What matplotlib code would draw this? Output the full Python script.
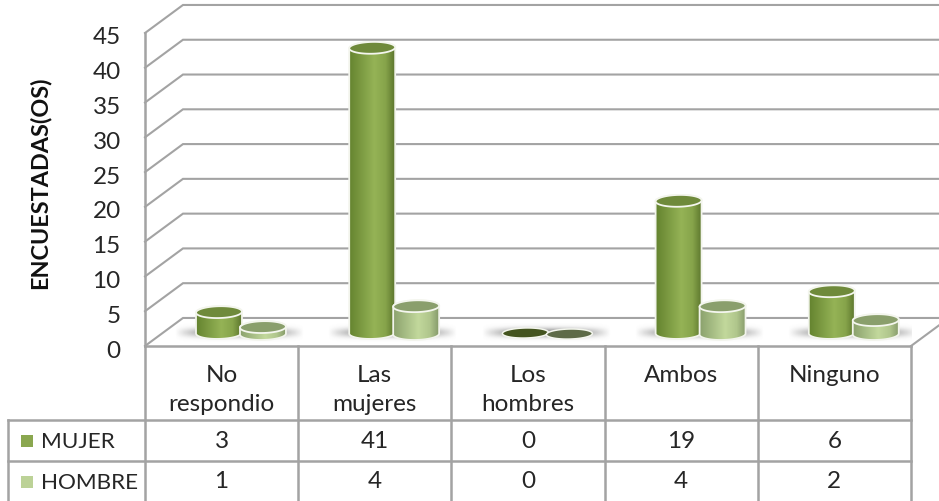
"""Encuesta: barras cilindricas con tabla de datos."""
import matplotlib
matplotlib.use('Agg')
import matplotlib.pyplot as plt
import numpy as np
from matplotlib.colors import LinearSegmentedColormap
from matplotlib.patches import Polygon, Rectangle
from matplotlib.transforms import ScaledTranslation

categories = ['No\nrespondio', 'Las\nmujeres', 'Los\nhombres', 'Ambos', 'Ninguno']
mujer = [3, 41, 0, 19, 6]
hombre = [1, 4, 0, 4, 2]
y_ticks = [0, 5, 10, 15, 20, 25, 30, 35, 40, 45]

W, H = 939, 502
LEFT, RIGHT, TOP, BOTTOM = 145, 911, 34, 347
GRID = '#a3a3a3'
TEXT = '#262626'
DEPTH_X, DEPTH_Y = 0.248, 4.03  # fondo de la caja 3D, en unidades de datos

plt.rcParams['font.family'] = ['Lato', 'DejaVu Sans']

fig = plt.figure(figsize=(W / 100, H / 100), dpi=100)
fig.patch.set_facecolor('white')
ax = fig.add_axes([LEFT / W, 1 - BOTTOM / H, (RIGHT - LEFT) / W, (BOTTOM - TOP) / H])
ax.set_facecolor('none')

body_mujer = LinearSegmentedColormap.from_list('m', [(0, '#64832f'), (0.55, '#95b356'), (0.8, '#86a44a'), (1, '#5c762d')])
body_hombre = LinearSegmentedColormap.from_list('h', [(0, '#8ba26d'), (0.55, '#c2d89c'), (0.8, '#b0c68c'), (1, '#869b6a')])


def ellipse(xc, yc, rx, ry, tilt, n=80, start=0.0, end=2 * np.pi):
    t = np.linspace(start, end, n)
    dx = rx * np.cos(t)
    return np.column_stack([xc + dx, yc + ry * np.sin(t) + tilt * dx])


def cylinder(xc, value, base, cmap, top_color, zero_color, z):
    rx, ry, tilt = 0.15, 0.85, 0.50
    yt = base + value
    if value == 0:
        top = Polygon(ellipse(xc, base, rx, ry * 0.85, tilt), closed=True, fc=zero_color,
                      ec='#f4f6ee', lw=1.1, zorder=z + 1, clip_on=False)
        ax.add_patch(top)
        return
    # contorno: frente inferior + lados
    low = ellipse(xc, base, rx, ry, tilt, start=np.pi, end=2 * np.pi)
    up = ellipse(xc, yt, rx, ry, tilt, start=0, end=np.pi)
    outline = np.vstack([low, up])
    body = Polygon(outline, closed=True, fc='none', ec='#f2f4ec', lw=1.3, zorder=z + 0.5, clip_on=False)
    ax.add_patch(body)
    grad = np.linspace(0, 1, 200).reshape(1, -1)
    im = ax.imshow(grad, cmap=cmap, extent=[xc - rx, xc + rx, base - 2, yt + 2], aspect='auto', zorder=z)
    im.set_clip_path(Polygon(outline, closed=True, transform=ax.transData))
    top = Polygon(ellipse(xc, yt, rx, ry, tilt), closed=True, fc=top_color, ec='#f4f6ee',
                  lw=1.3, zorder=z + 1, clip_on=False)
    ax.add_patch(top)


def shadow(xc):
    hw, hh = 0.42, 1.3
    xx, yy = np.meshgrid(np.linspace(-1, 1, 160), np.linspace(-1, 1, 40))
    alpha = np.clip(1 - np.abs(xx) ** 2.2, 0, 1) * np.exp(-(yy * 2.1) ** 2) * 0.8
    rgba = np.zeros(xx.shape + (4,))
    rgba[..., :3] = 0.45
    rgba[..., 3] = alpha
    ax.imshow(rgba, extent=[xc - hw, xc + hw, 1.87 - hh, 1.87 + hh], aspect='auto',
              zorder=1.5, interpolation='bilinear')


# paredes: rejilla de fondo y diagonales
for v in y_ticks:
    ax.plot([-0.5, -0.5 + DEPTH_X, 5.0], [v, v + DEPTH_Y, v + DEPTH_Y], color=GRID, lw=1.5,
            clip_on=False, zorder=1, solid_joinstyle='miter')
ax.plot([4.5, 4.5 + DEPTH_X], [0, DEPTH_Y], color=GRID, lw=1.5, clip_on=False, zorder=1)

for i in range(len(categories)):
    shadow(i + 0.117)
    cylinder(i - 0.017, mujer[i], 1.87, body_mujer, '#6f8a3b', '#44541f', 3)
    cylinder(i + 0.27, hombre[i], 1.72, body_hombre, '#8a9f6c', '#5e6b47', 5)

ax.set_xlim(-0.5, 4.5)
ax.set_ylim(0, 45)
ax.set_xticks([])
ax.set_yticks(y_ticks)
ax.tick_params(axis='y', length=0, pad=17.5, labelsize=17.5, labelcolor=TEXT)
shift = ScaledTranslation(0, -2 / 100, fig.dpi_scale_trans)
for lab in ax.get_yticklabels():
    lab.set_transform(lab.get_transform() + shift)
for s in ['top', 'right']:
    ax.spines[s].set_visible(False)
for s in ['left', 'bottom']:
    ax.spines[s].set_color(GRID)
    ax.spines[s].set_linewidth(1.8)
    ax.spines[s].set_zorder(6)

fig.text(40 / W, 1 - 183 / H, 'ENCUESTADAS(OS)', rotation=90, ha='center', va='center',
         fontsize=16.8, fontweight='bold', color='#111111')

# tabla de datos, en pixeles
tab = fig.add_axes([0, 0, 1, 1])
tab.set_xlim(0, W)
tab.set_ylim(H, 0)
tab.axis('off')
tab.patch.set_alpha(0)

col_w = (RIGHT - LEFT) / len(categories)
col_x = [LEFT + col_w * i for i in range(len(categories) + 1)]
ROW1, ROW2 = 421, 462
for x in col_x:
    tab.plot([x, x], [BOTTOM, H + 2], color=GRID, lw=1.8)
tab.plot([8, RIGHT], [ROW1, ROW1], color=GRID, lw=1.8)
tab.plot([8, RIGHT], [ROW2, ROW2], color=GRID, lw=1.8)
tab.plot([8, 8], [ROW1, H + 2], color=GRID, lw=1.8)

for i, cat in enumerate(categories):
    xc = (col_x[i] + col_x[i + 1]) / 2
    tab.text(xc, 365, cat, ha='center', va='top', fontsize=17.5, color=TEXT, linespacing=1.5)
    tab.text(xc, 442, str(mujer[i]), ha='center', va='center', fontsize=17.5, color=TEXT)
    tab.text(xc, 482, str(hombre[i]), ha='center', va='center', fontsize=17.5, color=TEXT)

tab.add_patch(Rectangle((20.5, 435.5), 12, 12, fc='#8aa74f', ec='none'))
tab.add_patch(Rectangle((20.5, 477), 12, 12, fc='#bcd297', ec='none'))
tab.text(41, 442, 'MUJER', ha='left', va='center', fontsize=16.2, color=TEXT)
tab.text(41, 483, 'HOMBRE', ha='left', va='center', fontsize=16.2, color=TEXT)

fig.savefig('out.png', dpi=100)
plt.close(fig)
